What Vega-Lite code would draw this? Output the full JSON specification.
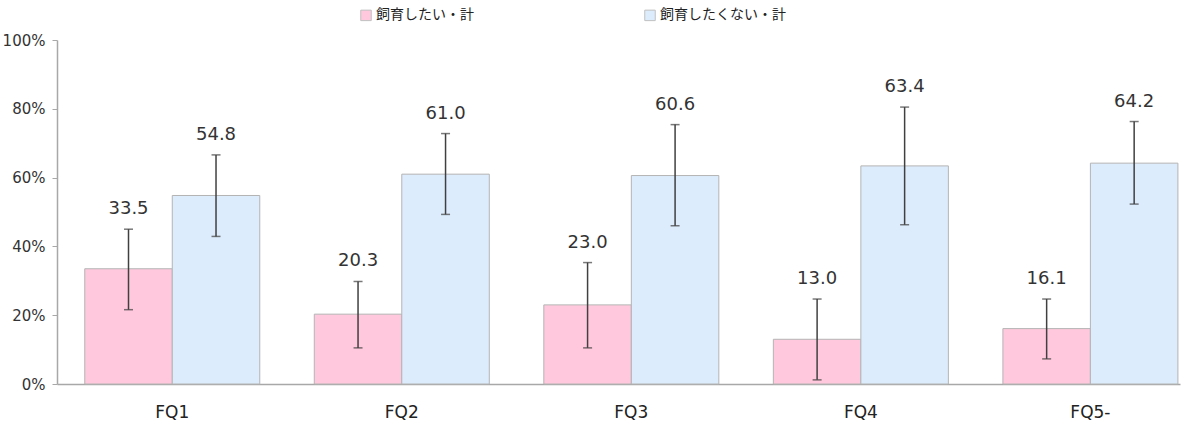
{
  "$schema": "https://vega.github.io/schema/vega-lite/v6.json",
  "autosize": {"type": "none"},
  "width": 1123,
  "height": 344,
  "padding": {"left": 57, "top": 40, "right": 20, "bottom": 44},
  "background": "white",
  "data": {
    "values": [
      {"cat": "FQ1", "series": "飼育したい・計", "value": 33.5, "lo": 21.6, "hi": 45.0},
      {"cat": "FQ1", "series": "飼育したくない・計", "value": 54.8, "lo": 42.9, "hi": 66.6},
      {"cat": "FQ2", "series": "飼育したい・計", "value": 20.3, "lo": 10.5, "hi": 29.8},
      {"cat": "FQ2", "series": "飼育したくない・計", "value": 61.0, "lo": 49.3, "hi": 72.8},
      {"cat": "FQ3", "series": "飼育したい・計", "value": 23.0, "lo": 10.5, "hi": 35.3},
      {"cat": "FQ3", "series": "飼育したくない・計", "value": 60.6, "lo": 46.0, "hi": 75.4},
      {"cat": "FQ4", "series": "飼育したい・計", "value": 13.0, "lo": 1.2, "hi": 24.7},
      {"cat": "FQ4", "series": "飼育したくない・計", "value": 63.4, "lo": 46.3, "hi": 80.5},
      {"cat": "FQ5-", "series": "飼育したい・計", "value": 16.1, "lo": 7.3, "hi": 24.7},
      {"cat": "FQ5-", "series": "飼育したくない・計", "value": 64.2, "lo": 52.3, "hi": 76.3}
    ]
  },
  "encoding": {
    "x": {
      "field": "cat",
      "type": "nominal",
      "sort": null,
      "scale": {"paddingInner": 0.2375, "paddingOuter": 0.065, "align": 0.93},
      "axis": {
        "title": null,
        "labelAngle": 0,
        "ticks": false,
        "domainColor": "#a8a8a8",
        "domainWidth": 1.5,
        "labelFont": "DejaVu Sans",
        "labelFontSize": 17,
        "labelColor": "#222222",
        "labelPadding": 20
      }
    },
    "xOffset": {"field": "series", "type": "nominal", "sort": null, "scale": {"paddingInner": 0, "paddingOuter": 0}}
  },
  "layer": [
    {
      "mark": {"type": "bar", "stroke": "#b4b4b4", "strokeWidth": 1},
      "encoding": {
        "y": {
          "field": "value",
          "type": "quantitative",
          "scale": {"domain": [0, 100]},
          "axis": {
            "title": null,
            "values": [0, 20, 40, 60, 80, 100],
            "labelExpr": "datum.value + '%'",
            "grid": false,
            "domainColor": "#a8a8a8",
            "domainWidth": 1.5,
            "tickColor": "#a8a8a8",
            "tickSize": 5,
            "labelFont": "DejaVu Sans",
            "labelFontSize": 15,
            "labelColor": "#333333",
            "labelPadding": 7
          }
        },
        "fill": {
          "field": "series",
          "type": "nominal",
          "sort": null,
          "scale": {"range": ["#ffc8dc", "#dcecfc"]},
          "legend": {
            "title": null,
            "orient": "none",
            "direction": "horizontal",
            "legendX": 302,
            "legendY": -32,
            "symbolType": "square",
            "symbolSize": 110,
            "symbolStrokeColor": "#c0c0c0",
            "symbolStrokeWidth": 1,
            "labelFont": "Noto Sans CJK JP",
            "labelFontSize": 14,
            "labelColor": "#222222",
            "labelOffset": 3,
            "columnPadding": 168
          }
        }
      }
    },
    {
      "mark": {"type": "rule", "color": "#404040", "strokeWidth": 1.5},
      "encoding": {
        "y": {"field": "lo", "type": "quantitative"},
        "y2": {"field": "hi"}
      }
    },
    {
      "mark": {"type": "tick", "color": "#404040", "thickness": 1.5, "size": 9},
      "encoding": {"y": {"field": "lo", "type": "quantitative"}}
    },
    {
      "mark": {"type": "tick", "color": "#404040", "thickness": 1.5, "size": 9},
      "encoding": {"y": {"field": "hi", "type": "quantitative"}}
    },
    {
      "mark": {"type": "text", "font": "DejaVu Sans", "fontSize": 18, "color": "#333333", "baseline": "middle", "dy": -20},
      "encoding": {
        "y": {"field": "hi", "type": "quantitative"},
        "text": {"field": "value", "type": "quantitative", "format": ".1f"}
      }
    }
  ],
  "config": {"view": {"stroke": null}}
}
